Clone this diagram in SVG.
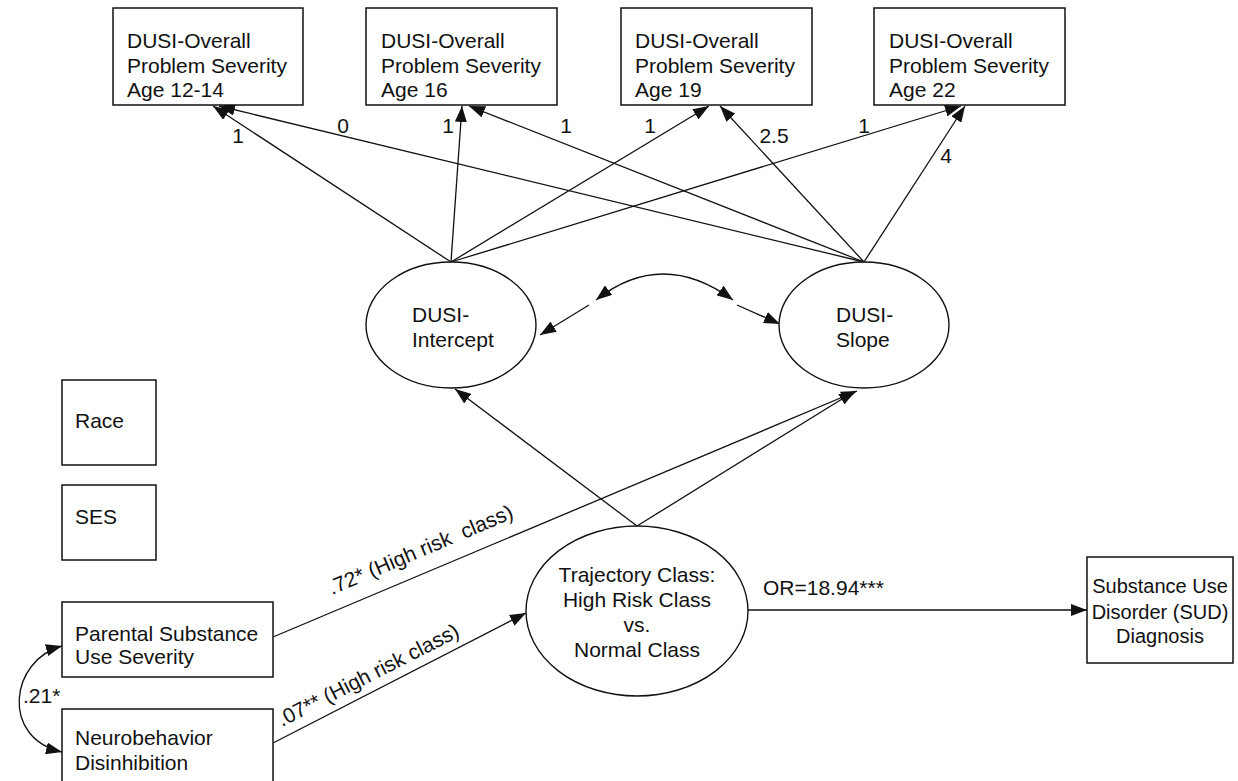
<svg xmlns="http://www.w3.org/2000/svg" width="1238" height="781" viewBox="0 0 1238 781">
<style>
text{font-family:"Liberation Sans",Arial,sans-serif;font-size:21px;fill:#111;}
.box{fill:#fff;stroke:#111;stroke-width:1.5;}
.ell{fill:#fff;stroke:#111;stroke-width:1.4;}
.ln{fill:none;stroke:#111;stroke-width:1.3;}
.mid{text-anchor:middle;}
.pre{white-space:pre;}
</style>
<defs>
<marker id="ah" viewBox="0 0 16 12" refX="16" refY="6" markerWidth="16" markerHeight="12" markerUnits="userSpaceOnUse" orient="auto-start-reverse">
<path d="M0,0 L16,6 L0,12 z" fill="#111"/>
</marker>
</defs>
<rect width="1238" height="781" fill="#fff"/>

<g id="connectors">
<path class="ln" d="M451,262 L213,106" marker-end="url(#ah)"/>
<path class="ln" d="M864,262 L219,106" marker-end="url(#ah)"/>
<path class="ln" d="M451,262 L462,106" marker-end="url(#ah)"/>
<path class="ln" d="M864,262 L469,106" marker-end="url(#ah)"/>
<path class="ln" d="M451,262 L709,106" marker-end="url(#ah)"/>
<path class="ln" d="M864,262 L720,106" marker-end="url(#ah)"/>
<path class="ln" d="M451,262 L961,106" marker-end="url(#ah)"/>
<path class="ln" d="M864,262 L965,106" marker-end="url(#ah)"/>
<path class="ln" d="M637,526 L455,389" marker-end="url(#ah)"/>
<path class="ln" d="M637,526 L855,391" marker-end="url(#ah)"/>
<path class="ln" d="M273,637 L857,391" marker-end="url(#ah)"/>
<path class="ln" d="M273,743 L526,613" marker-end="url(#ah)"/>
<path class="ln" d="M748,610 L1087,610" marker-end="url(#ah)"/>
<path class="ln" d="M589,305 L540,335" marker-end="url(#ah)"/>
<path class="ln" d="M596,300 Q662,248 733,300" marker-start="url(#ah)" marker-end="url(#ah)"/>
<path class="ln" d="M737,305 L780,324" marker-end="url(#ah)"/>
<path class="ln" d="M62,646 C10,660 0,738 62,752" marker-start="url(#ah)" marker-end="url(#ah)"/>
<text x="238" y="143" class="mid">1</text>
<text x="343" y="133" class="mid">0</text>
<text x="448" y="133" class="mid">1</text>
<text x="566" y="133" class="mid">1</text>
<text x="650" y="133" class="mid">1</text>
<text x="774" y="143" class="mid">2.5</text>
<text x="864" y="133" class="mid">1</text>
<text x="946" y="163" class="mid">4</text>
<text x="23" y="703">.21*</text>
<text x="332" y="595" class="pre" transform="rotate(-23 332 595)">.72* (High risk  class)</text>
<text x="282" y="727" transform="rotate(-27 282 727)">.07** (High risk class)</text>
<text x="763" y="595">OR=18.94***</text>
</g>

<g id="box-age12">
<rect class="box" x="113" y="8" width="190" height="97"/>
<text x="127" y="48">DUSI-Overall</text>
<text x="127" y="73">Problem Severity</text>
<text x="127" y="97">Age 12-14</text>
</g>
<g id="box-age16">
<rect class="box" x="366" y="8" width="191" height="97"/>
<text x="381" y="48">DUSI-Overall</text>
<text x="381" y="73">Problem Severity</text>
<text x="381" y="97">Age 16</text>
</g>
<g id="box-age19">
<rect class="box" x="621" y="8" width="191" height="97"/>
<text x="635" y="48">DUSI-Overall</text>
<text x="635" y="73">Problem Severity</text>
<text x="635" y="97">Age 19</text>
</g>
<g id="box-age22">
<rect class="box" x="874" y="8" width="191" height="97"/>
<text x="889" y="48">DUSI-Overall</text>
<text x="889" y="73">Problem Severity</text>
<text x="889" y="97">Age 22</text>
</g>

<g id="dusi-intercept">
<ellipse class="ell" cx="451" cy="325" rx="85" ry="63"/>
<text x="412" y="322">DUSI-</text>
<text x="412" y="347">Intercept</text>
</g>
<g id="dusi-slope">
<ellipse class="ell" cx="864" cy="325" rx="85" ry="63"/>
<text x="836" y="322">DUSI-</text>
<text x="836" y="347">Slope</text>
</g>

<g id="race">
<rect class="box" x="62" y="380" width="94" height="85"/>
<text x="75" y="428">Race</text>
</g>
<g id="ses">
<rect class="box" x="62" y="485" width="94" height="75"/>
<text x="75" y="524">SES</text>
</g>

<g id="parental">
<rect class="box" x="62" y="602" width="211" height="75"/>
<text x="75" y="641">Parental Substance</text>
<text x="75" y="664">Use Severity</text>
</g>
<g id="neuro">
<rect class="box" x="62" y="709" width="211" height="90"/>
<text x="75" y="745">Neurobehavior</text>
<text x="75" y="770">Disinhibition</text>
</g>

<g id="trajectory">
<ellipse class="ell" cx="637" cy="611" rx="111" ry="85"/>
<text x="637" y="582" class="mid">Trajectory Class:</text>
<text x="637" y="607" class="mid">High Risk Class</text>
<text x="637" y="632" class="mid">vs.</text>
<text x="637" y="657" class="mid">Normal Class</text>
</g>

<g id="sud">
<rect class="box" x="1087" y="557" width="146" height="106"/>
<text x="1160" y="593" class="mid" style="font-size:20px">Substance Use</text>
<text x="1160" y="619" class="mid" style="font-size:20px">Disorder (SUD)</text>
<text x="1160" y="643" class="mid" style="font-size:20px">Diagnosis</text>
</g>
</svg>
